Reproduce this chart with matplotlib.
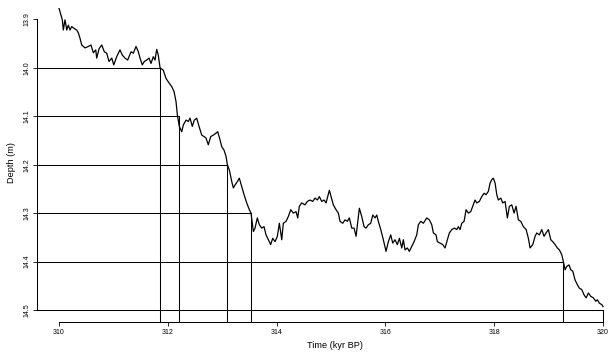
import numpy as np
import matplotlib
matplotlib.use("Agg")
import matplotlib.pyplot as plt

# Serie: tiempo (kyr BP) y profundidad (m)
tiempo = [
    310.000, 310.061, 310.079, 310.110, 310.142, 310.171, 310.202, 310.233, 310.281, 310.325,
    310.355, 310.386, 310.417, 310.478, 310.539, 310.588, 310.631, 310.675, 310.693, 310.735,
    310.785, 310.833, 310.877, 310.919, 310.969, 311.006, 311.061, 311.121, 311.164, 311.213,
    311.263, 311.287, 311.324, 311.366, 311.415, 311.458, 311.489, 311.531, 311.568, 311.612,
    311.654, 311.691, 311.733, 311.765, 311.796, 311.825, 311.857, 311.917, 311.967, 312.009,
    312.072, 312.114, 312.151, 312.175, 312.211, 312.256, 312.285, 312.335, 312.377, 312.408,
    312.450, 312.487, 312.531, 312.574, 312.623, 312.665, 312.702, 312.744, 312.789, 312.836,
    312.886, 312.917, 312.960, 312.991, 313.033, 313.070, 313.094, 313.131, 313.175, 313.204,
    313.235, 313.278, 313.314, 313.358, 313.401, 313.450, 313.498, 313.529, 313.572, 313.603,
    313.645, 313.682, 313.726, 313.768, 313.805, 313.847, 313.891, 313.928, 313.971, 314.013,
    314.050, 314.094, 314.123, 314.173, 314.215, 314.259, 314.307, 314.357, 314.388, 314.417,
    314.461, 314.522, 314.564, 314.614, 314.664, 314.706, 314.748, 314.785, 314.829, 314.871,
    314.908, 314.932, 314.969, 315.000, 315.042, 315.092, 315.134, 315.165, 315.215, 315.257,
    315.300, 315.336, 315.381, 315.423, 315.460, 315.520, 315.564, 315.607, 315.643, 315.686,
    315.730, 315.767, 315.809, 315.840, 315.869, 315.914, 315.961, 316.011, 316.053, 316.097,
    316.134, 316.176, 316.219, 316.256, 316.300, 316.329, 316.360, 316.403, 316.439, 316.483,
    316.526, 316.575, 316.605, 316.649, 316.697, 316.759, 316.807, 316.851, 316.881, 316.930,
    316.954, 317.004, 317.053, 317.096, 317.138, 317.175, 317.219, 317.267, 317.311, 317.340,
    317.371, 317.403, 317.445, 317.482, 317.524, 317.568, 317.605, 317.647, 317.678, 317.726,
    317.770, 317.813, 317.849, 317.892, 317.923, 317.954, 317.983, 318.015, 318.046, 318.075,
    318.120, 318.156, 318.199, 318.241, 318.278, 318.322, 318.364, 318.401, 318.443, 318.487,
    318.535, 318.585, 318.627, 318.658, 318.708, 318.750, 318.781, 318.829, 318.873, 318.915,
    318.952, 318.994, 319.039, 319.075, 319.118, 319.160, 319.197, 319.241, 319.270, 319.301,
    319.333, 319.375, 319.406, 319.443, 319.485, 319.528, 319.564, 319.608, 319.651, 319.688,
    319.730, 319.774, 319.822, 319.866, 319.895, 319.932, 319.976, 320.000,
]
profundidad = [
    13.877, 13.901, 13.922, 13.901, 13.922, 13.912, 13.922, 13.915, 13.919, 13.922,
    13.928, 13.939, 13.953, 13.959, 13.956, 13.953, 13.969, 13.963, 13.980, 13.961,
    13.953, 13.967, 13.970, 13.987, 13.980, 13.994, 13.977, 13.963, 13.974, 13.980,
    13.984, 13.977, 13.967, 13.970, 13.956, 13.967, 13.980, 13.994, 13.987, 13.984,
    13.980, 13.991, 13.977, 13.984, 13.962, 13.974, 14.000, 14.005, 14.022, 14.029,
    14.039, 14.049, 14.070, 14.097, 14.121, 14.132, 14.118, 14.108, 14.111, 14.104,
    14.121, 14.108, 14.104, 14.121, 14.139, 14.142, 14.145, 14.159, 14.142, 14.139,
    14.135, 14.132, 14.149, 14.163, 14.170, 14.183, 14.200, 14.211, 14.235, 14.248,
    14.242, 14.235, 14.228, 14.245, 14.262, 14.279, 14.293, 14.300, 14.338, 14.331,
    14.310, 14.324, 14.331, 14.328, 14.345, 14.355, 14.365, 14.352, 14.359, 14.348,
    14.321, 14.355, 14.321, 14.317, 14.307, 14.293, 14.300, 14.297, 14.310, 14.286,
    14.279, 14.283, 14.276, 14.273, 14.276, 14.269, 14.273, 14.266, 14.276, 14.273,
    14.279, 14.269, 14.253, 14.266, 14.283, 14.293, 14.300, 14.317, 14.321, 14.314,
    14.317, 14.310, 14.331, 14.331, 14.348, 14.290, 14.307, 14.328, 14.331, 14.324,
    14.321, 14.304, 14.310, 14.304, 14.317, 14.334, 14.355, 14.379, 14.359, 14.345,
    14.362, 14.355, 14.365, 14.352, 14.372, 14.355, 14.376, 14.372, 14.379, 14.369,
    14.359, 14.345, 14.324, 14.317, 14.321, 14.310, 14.314, 14.324, 14.341, 14.345,
    14.359, 14.362, 14.365, 14.372, 14.355, 14.341, 14.334, 14.331, 14.334, 14.328,
    14.334, 14.321, 14.317, 14.293, 14.300, 14.297, 14.286, 14.273, 14.279, 14.276,
    14.266, 14.259, 14.262, 14.255, 14.238, 14.231, 14.228, 14.238, 14.262, 14.273,
    14.269, 14.279, 14.276, 14.310, 14.286, 14.283, 14.300, 14.286, 14.314, 14.317,
    14.328, 14.334, 14.352, 14.372, 14.365, 14.348, 14.341, 14.345, 14.334, 14.348,
    14.341, 14.334, 14.355, 14.359, 14.365, 14.372, 14.376, 14.386, 14.400, 14.417,
    14.410, 14.407, 14.417, 14.420, 14.438, 14.448, 14.455, 14.458, 14.469, 14.475,
    14.465, 14.472, 14.475, 14.482, 14.479, 14.486, 14.489, 14.493,
]

# Niveles de profundidad marcados y ticks
niveles = [14.0, 14.1, 14.2, 14.3, 14.4, 14.5]
ticks_x = [310, 312, 314, 316, 318, 320]
ticks_y = [13.9, 14.0, 14.1, 14.2, 14.3, 14.4, 14.5]

t = np.array(tiempo)
d = np.array(profundidad)

plt.rcParams['font.family'] = ['Liberation Sans', 'DejaVu Sans']

fig = plt.figure(figsize=(6.08, 3.52), dpi=100)
ax = fig.add_axes([0.0609, 0.0864, 0.9668, 0.8917])

xmin, xmax = 309.596, 320.4
ymin, ymax = 14.524, 13.876
ax.set_xlim(xmin, xmax)
ax.set_ylim(ymin, ymax)

# Lineas de cada nivel: horizontal hasta la curva y vertical hasta abajo
for nivel in niveles:
    idx = np.where(d >= nivel)[0]
    tc = t[idx[0]] if len(idx) > 0 else t[-1]
    ax.plot([xmin, tc], [nivel, nivel], color='black', lw=0.75, clip_on=False)
    ax.plot([tc, tc], [nivel, ymin], color='black', lw=0.75, clip_on=False)

ax.plot(t, d, color='black', lw=0.9)

# Ejes estilo R
for lado in ['top', 'right']:
    ax.spines[lado].set_visible(False)
ax.spines['left'].set_bounds(13.9, 14.5)
ax.spines['bottom'].set_bounds(310, 320)
ax.spines['left'].set_linewidth(0.75)
ax.spines['bottom'].set_linewidth(0.75)

ax.set_xticks(ticks_x)
ax.set_xticklabels([str(v) for v in ticks_x])
ax.set_yticks(ticks_y)
ax.set_yticklabels([f"{v:.1f}" for v in ticks_y], rotation=90, va='center')
ax.tick_params(axis='both', length=3, width=0.6, labelsize=5)
ax.tick_params(axis='x', pad=2)
ax.tick_params(axis='y', pad=2)

fig.text(12 / 608, 1 - 163 / 352, "Depth (m)", rotation=90, ha='center', va='center', fontsize=6.6)
fig.text(335 / 608, 1 - 346 / 352, "Time (kyr BP)", ha='center', va='center', fontsize=6.6)

fig.savefig("out.png", dpi=100)
